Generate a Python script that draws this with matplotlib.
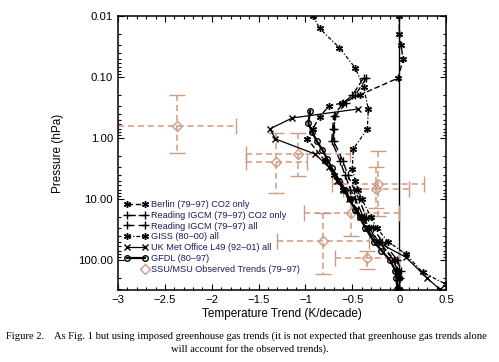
import numpy as np
import matplotlib
matplotlib.use("Agg")
from matplotlib import pyplot as plt
from matplotlib.lines import Line2D
from matplotlib.ticker import FixedLocator, LogLocator, NullFormatter, MultipleLocator

plt.rcParams['font.family'] = ['Liberation Sans', 'DejaVu Sans']

# model trends (K/decade) at pressure levels (hPa)
berlin_p = [0.01, 0.0196, 0.03, 0.051, 0.104, 0.197, 0.267, 0.30, 0.45, 0.7, 1.04, 2.4, 4, 7, 10, 20, 30, 50, 100, 150, 200, 300]
berlin_t = [0.0, 0.0, 0.02, 0.04, -0.01, -0.42, -0.61, -0.75, -0.85, -0.92, -0.98, -0.79, -0.7, -0.6, -0.52, -0.4, -0.33, -0.22, -0.05, -0.01, 0.0, 0.0]

rco2_p = [0.104, 0.2, 0.27, 0.436, 0.7, 1.12, 2.4, 4, 7, 10, 20, 30, 50, 100, 150, 200, 300]
rco2_t = [-0.38, -0.5, -0.6, -0.7, -0.71, -0.72, -0.63, -0.58, -0.52, -0.47, -0.38, -0.32, -0.22, -0.06, -0.02, 0.0, 0.0]

rall_p = [0.104, 0.2, 0.27, 0.436, 0.7, 1.12, 2.4, 4, 7, 10, 20, 30, 50, 100, 150, 200, 300]
rall_t = [-0.35, -0.47, -0.57, -0.68, -0.70, -0.70, -0.60, -0.55, -0.48, -0.43, -0.35, -0.28, -0.18, -0.02, 0.02, 0.01, 0.0]

giss_p = [0.01, 0.016, 0.033, 0.071, 0.146, 0.335, 0.71, 1.51, 3.2, 5, 7, 10, 20, 30, 50, 80, 160, 250]
giss_t = [-0.92, -0.85, -0.64, -0.47, -0.38, -0.33, -0.34, -0.49, -0.50, -0.47, -0.44, -0.40, -0.30, -0.24, -0.12, 0.07, 0.25, 0.5]

ukmo_p = [0.335, 0.47, 0.71, 1.04, 1.83, 3, 5, 7, 10, 15, 20, 30, 50, 90, 200, 300]
ukmo_t = [-0.44, -1.14, -1.38, -1.32, -0.9, -0.75, -0.66, -0.6, -0.54, -0.46, -0.42, -0.35, -0.24, 0.07, 0.3, 0.43]

gfdl_p = [0.36, 0.57, 0.80, 1.12, 1.57, 2.21, 3.1, 5, 7, 10, 15, 20, 30, 50, 70, 100, 150, 200, 300]
gfdl_t = [-0.95, -0.97, -0.93, -0.88, -0.82, -0.77, -0.72, -0.64, -0.58, -0.53, -0.47, -0.42, -0.36, -0.27, -0.19, -0.1, -0.04, -0.03, -0.02]

# SSU/MSU observed trends with error ranges
obs_t = [-2.37, -1.31, -1.08, -0.23, -0.25, -0.51, -0.81, -0.34]
obs_p = [0.63, 2.47, 1.83, 5.7, 6.8, 17, 49, 93]
obs_terr = [0.63, 0.33, 0.55, 0.49, 0.35, 0.51, 0.49, 0.34]
obs_plo = [0.2, 0.83, 0.83, 1.63, 3.0, 8.0, 17, 71]
obs_phi = [1.76, 8.0, 4.2, 19, 14, 40, 170, 140]

obs_col = '#d09a80'
leg_col = '#1c1c5a'

fig = plt.figure(figsize=(4.99, 3.62), dpi=100)
ax = fig.add_axes([0.2365, 0.199, 0.6575, 0.757])

ax.axvline(0, color='k', lw=1.0, zorder=1)

# observations
yerr = [np.array(obs_p) - np.array(obs_plo), np.array(obs_phi) - np.array(obs_p)]
eb = ax.errorbar(obs_t, obs_p, xerr=obs_terr, yerr=yerr, fmt='D', ms=5,
                 mfc='none', mec=obs_col, mew=1.0, ecolor=obs_col, elinewidth=1.1,
                 capsize=6, capthick=1.0, zorder=2)
for lc in eb[2]:
    lc.set_linestyle((0, (4, 2.5)))

# models
ax.plot(berlin_t, berlin_p, color='k', lw=1.0, ls=(0, (4, 2)), marker=(6, 2, 0), ms=5, zorder=3)
ax.plot(rco2_t, rco2_p, color='k', lw=1.0, ls=(0, (6, 2)), marker='+', ms=6, mew=1.0, zorder=3)
ax.plot(rall_t, rall_p, color='k', lw=1.0, ls=(0, (5, 3)), marker='+', ms=6, mew=1.0, zorder=3)
ax.plot(giss_t, giss_p, color='k', lw=0.9, ls=(0, (3, 1.5, 1, 1.5)), marker=(6, 2, 0), ms=5, zorder=3)
ax.plot(ukmo_t, ukmo_p, color='k', lw=0.9, ls='-', marker='x', ms=4, mew=1.0, zorder=3)
ax.plot(gfdl_t, gfdl_p, color='k', lw=1.6, ls='-', marker='o', ms=4, mfc='none', mew=1.0, zorder=3)

ax.set_yscale('log')
ax.set_ylim(310, 0.01)
ax.set_xlim(-3, 0.5)

ax.yaxis.set_major_locator(FixedLocator([0.01, 0.1, 1, 10, 100]))
ax.set_yticklabels(['0.01', '0.10', '1.00', '10.00', '100.00'])
ax.yaxis.set_minor_locator(LogLocator(base=10, subs=np.arange(2, 10)))
ax.yaxis.set_minor_formatter(NullFormatter())
ax.xaxis.set_minor_locator(MultipleLocator(0.1))
ax.set_xticks([-3, -2.5, -2, -1.5, -1, -0.5, 0, 0.5])
ax.set_xticklabels(['\u22123', '\u22122.5', '\u22122', '\u22121.5', '\u22121', '\u22120.5', '0', '0.5'])

ax.tick_params(which='both', direction='in', top=True, right=True, labelsize=8.2, width=0.8)
ax.tick_params(which='major', length=4)
ax.tick_params(which='minor', length=2.5)
for s in ax.spines.values():
    s.set_linewidth(1.1)

ax.set_xlabel('Temperature Trend (K/decade)', fontsize=8.5, labelpad=2)
ax.set_ylabel('Pressure (hPa)', fontsize=8.5, labelpad=10)

handles = [
    Line2D([], [], color='k', lw=1.0, ls=(0, (4, 2)), marker=(6, 2, 0), ms=5),
    Line2D([], [], color='k', lw=1.0, ls=(0, (6, 2)), marker='+', ms=6),
    Line2D([], [], color='k', lw=1.0, ls=(0, (5, 3)), marker='+', ms=6),
    Line2D([], [], color='k', lw=0.9, ls=(0, (3, 1.5, 1, 1.5)), marker=(6, 2, 0), ms=5),
    Line2D([], [], color='k', lw=0.9, ls='-', marker='x', ms=4),
    Line2D([], [], color='k', lw=1.6, ls='-', marker='o', ms=4, mfc='none'),
    Line2D([], [], color=obs_col, ls='none', marker='D', ms=5, mfc='none', mew=1.0),
]
labels = ['Berlin (79\u201397) CO2 only', 'Reading IGCM (79\u201397) CO2 only',
          'Reading IGCM (79\u201397) all', 'GISS (80\u201300) all',
          'UK Met Office L49 (92\u201301) all', 'GFDL (80\u201397)',
          'SSU/MSU Observed Trends (79\u201397)']
leg = ax.legend(handles, labels, loc='lower left', bbox_to_anchor=(0.0, 0.035),
                frameon=False, fontsize=6.6, numpoints=2, handlelength=2.5,
                handletextpad=0.35, labelspacing=0.2, borderaxespad=0.3)
for t in leg.get_texts():
    t.set_color(leg_col)
# the observed-trends entry shows one marker only
leg.legend_handles[-1].set_markevery([1])

fig.text(0.012, 0.072, 'Figure 2.    As Fig. 1 but using imposed greenhouse gas trends (it is not expected that greenhouse gas trends alone',
         fontsize=7.6, family='Liberation Serif', ha='left', va='center')
fig.text(0.5, 0.036, 'will account for the observed trends).',
         fontsize=7.6, family='Liberation Serif', ha='center', va='center')

fig.savefig('out.png', dpi=100)
